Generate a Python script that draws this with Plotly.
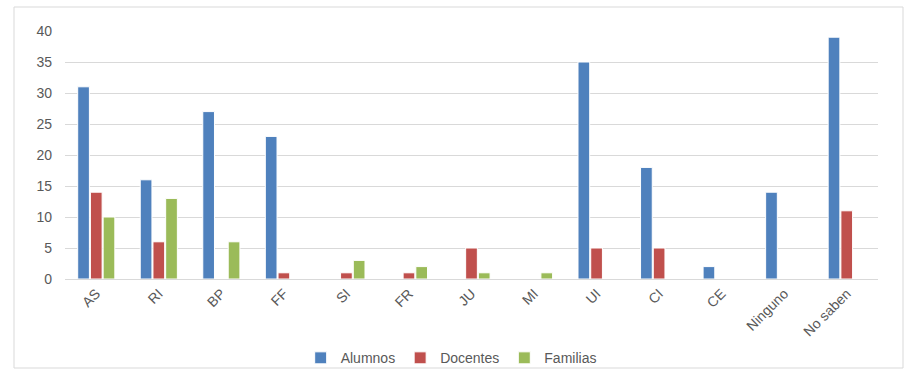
import plotly.graph_objects as go

categories = ["AS", "RI", "BP", "FF", "SI", "FR", "JU", "MI", "UI", "CI", "CE", "Ninguno", "No saben"]
alumnos = [31, 16, 27, 23, 0, 0, 0, 0, 35, 18, 2, 14, 39]
docentes = [14, 6, 0, 1, 1, 1, 5, 0, 5, 5, 0, 0, 11]
familias = [10, 13, 6, 0, 3, 2, 1, 1, 0, 0, 0, 0, 0]
y_ticks = [0, 5, 10, 15, 20, 25, 30, 35, 40]

series = [("Alumnos", alumnos, "#4F81BD"), ("Docentes", docentes, "#C0504D"), ("Familias", familias, "#9BBB59")]

fig = go.Figure()
for name, vals, col in series:
    fig.add_trace(go.Bar(x=categories, y=vals, name=name, marker_color=col,
                         marker_line=dict(color="white", width=1)))

font_color = "#595959"
fig.update_layout(
    width=911, height=369,
    margin=dict(l=65, r=33, t=31, b=90, autoexpand=False),
    paper_bgcolor="white", plot_bgcolor="white",
    barmode="group", bargap=0.39, bargroupgap=0.08,
    font=dict(family="Liberation Sans, Arial, sans-serif", size=13, color=font_color),
    showlegend=True,
    legend=dict(orientation="h", x=0.475, xanchor="center", y=-0.255, yanchor="top",
                bgcolor="rgba(0,0,0,0)",
                font=dict(size=14, color=font_color), itemwidth=30, tracegroupgap=0),
    xaxis=dict(tickangle=-45, showgrid=False, showline=True, linecolor="#D9D9D9", linewidth=1,
               ticks="", tickfont=dict(size=14, color=font_color), automargin=False,
               ticklabelstandoff=0),
    yaxis=dict(range=[0, 40], tickvals=y_ticks, showgrid=True, gridcolor="#D9D9D9", gridwidth=1,
               zeroline=False, showline=False, ticks="", ticklabelstandoff=12, automargin=False,
               tickfont=dict(size=14, color=font_color)),
    shapes=[dict(type="rect", xref="paper", yref="paper",
                 x0=(14 - 65) / 813, x1=(903 - 65) / 813,
                 y0=(279 - 368) / 248, y1=(279 - 7) / 248,
                 line=dict(color="#D9D9D9", width=1), fillcolor="rgba(0,0,0,0)", layer="below")],
)

fig.write_html("out.html")
